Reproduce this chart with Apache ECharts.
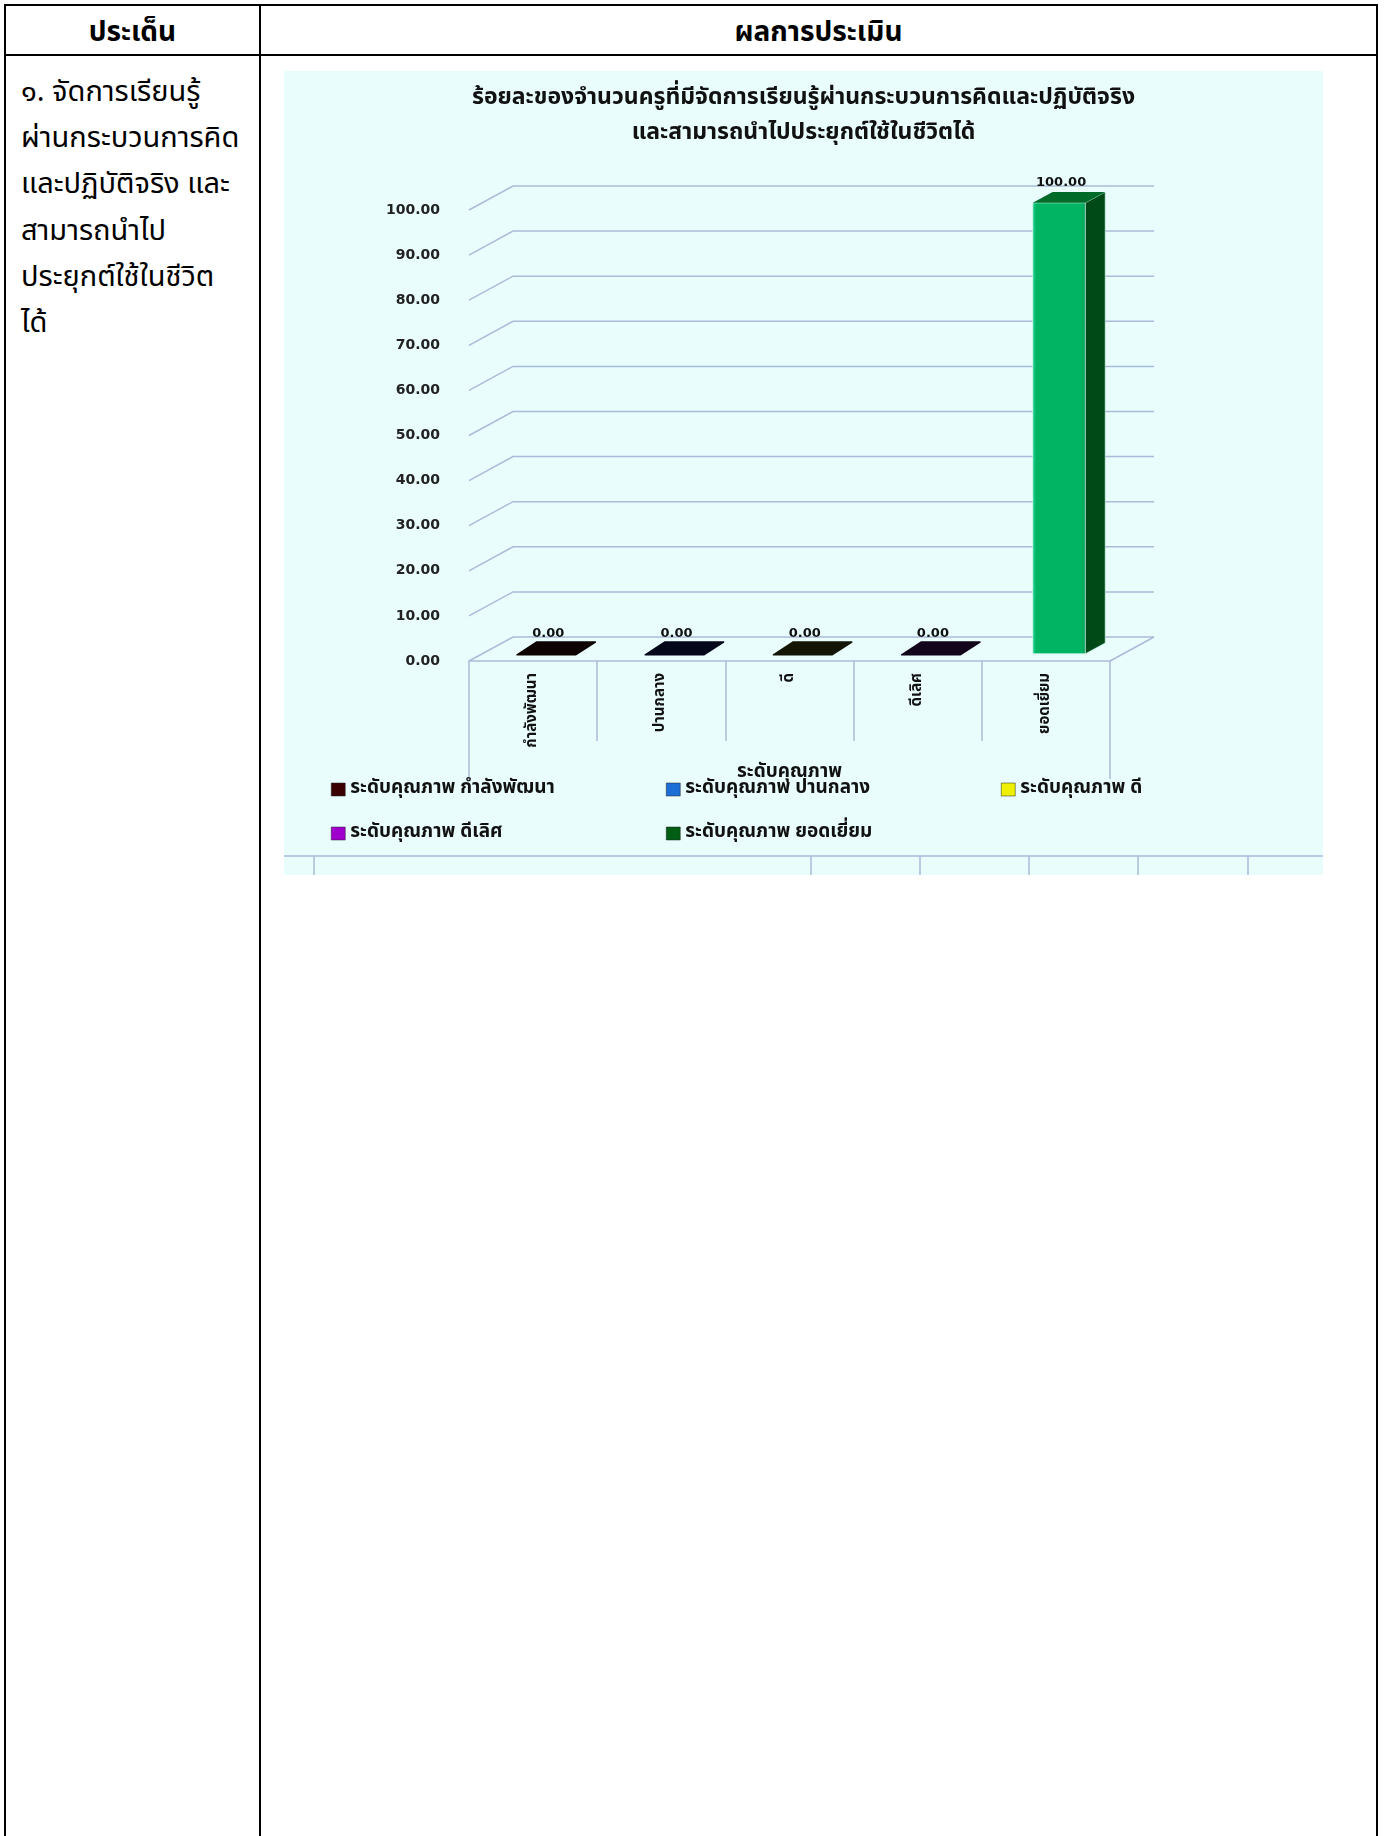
<!DOCTYPE html>
<html><head><meta charset="utf-8">
<script src="https://cdn.jsdelivr.net/npm/echarts@6/dist/echarts.min.js"></script>
<style>
html,body{margin:0;padding:0;background:#fff;}
#page{position:relative;width:1385px;height:1836px;overflow:hidden;background:#fff;font-family:Tahoma,"Noto Sans Thai","Noto Sans","DejaVu Sans",sans-serif;color:#000;}
.ln{position:absolute;background:#000;}
.hd{position:absolute;height:48px;line-height:48px;text-align:center;font-weight:bold;font-size:28px;}
#left{position:absolute;left:21px;top:69px;font-size:29px;line-height:46.2px;white-space:nowrap;}
#chart{position:absolute;left:284px;top:71px;width:1039px;height:804px;}
</style></head><body>
<div id="page">
  <div class="ln" style="left:4px;top:4px;width:1374px;height:2px"></div>
  <div class="ln" style="left:4px;top:54px;width:1374px;height:2px"></div>
  <div class="ln" style="left:4px;top:4px;width:2px;height:1832px"></div>
  <div class="ln" style="left:259px;top:4px;width:2px;height:1832px"></div>
  <div class="ln" style="left:1376px;top:4px;width:2px;height:1832px"></div>
  <div class="hd" style="left:6px;width:253px;top:9px">ประเด็น</div>
  <div class="hd" style="left:261px;width:1115px;top:9px">ผลการประเมิน</div>
  <div id="left">๑. จัดการเรียนรู้<br>ผ่านกระบวนการคิด<br>และปฏิบัติจริง และ<br>สามารถนำไป<br>ประยุกต์ใช้ในชีวิต<br>ได้</div>
  <div id="chart"></div>
</div>
<script>
// ---- data ----
const chartTitle = 'ร้อยละของจำนวนครูที่มีจัดการเรียนรู้ผ่านกระบวนการคิดและปฏิบัติจริง\nและสามารถนำไปประยุกต์ใช้ในชีวิตได้';
const axisName = 'ระดับคุณภาพ';
const categories = ['กำลังพัฒนา', 'ปานกลาง', 'ดี', 'ดีเลิศ', 'ยอดเยี่ยม'];
const seriesNames = ['ระดับคุณภาพ กำลังพัฒนา', 'ระดับคุณภาพ ปานกลาง', 'ระดับคุณภาพ ดี', 'ระดับคุณภาพ ดีเลิศ', 'ระดับคุณภาพ ยอดเยี่ยม'];
const values = [0.00, 0.00, 0.00, 0.00, 100.00];
const yTicks = [0, 10, 20, 30, 40, 50, 60, 70, 80, 90, 100];

// ---- styles ----
const legendColors = ['#3a0000', '#1a6ed6', '#eef000', '#a000cc', '#005e14'];
const frontColors = ['#2a0606', '#0a1030', '#2a2a08', '#24082a', '#00b464'];
const sideColors  = ['#0c0000', '#02040e', '#0c0c02', '#0a020c', '#004a18'];
const topColors   = ['#0d0303', '#04061a', '#151505', '#12041a', '#006a28'];
const GRID = '#a9bcd9';
const DX = 44, DY = -24, F0 = 0.3, F1 = 0.75;
const thaiFont = 'Tahoma, "Noto Sans Thai", "Noto Sans", sans-serif';

const chart = echarts.init(document.getElementById('chart'));

function barRender(params, api) {
  const ci = api.value(0), v = api.value(1);
  const base = api.coord([ci, 0]);
  const top = api.coord([ci, v]);
  const band = api.size([1, 0])[0];
  const w = band * 0.41;
  const x0 = base[0] - w / 2 + DX * F0, x1 = x0 + w;
  const yb = base[1] + DY * F0, yt = top[1] + DY * F0;
  const ddx = DX * (F1 - F0), ddy = DY * (F1 - F0);
  const children = [];
  if (yb - yt > 0.5) {
    children.push({type: 'rect', shape: {x: x0, y: yt, width: w, height: yb - yt},
      style: {fill: new echarts.graphic.LinearGradient(0, 0, 1, 0, [
        {offset: 0, color: '#22d08a'}, {offset: 0.08, color: frontColors[ci]},
        {offset: 0.92, color: frontColors[ci]}, {offset: 1, color: '#009a52'}]),
        stroke: 'rgba(200,250,235,0.8)', lineWidth: 1}});
    children.push({type: 'polygon', shape: {points: [[x1, yb], [x1, yt], [x1 + ddx, yt + ddy], [x1 + ddx, yb + ddy]]},
      style: {fill: sideColors[ci], stroke: 'rgba(200,250,235,0.6)', lineWidth: 1}});
    children.push({type: 'polygon', shape: {points: [[x0, yt], [x1, yt], [x1 + ddx, yt + ddy], [x0 + ddx, yt + ddy]]},
      style: {fill: topColors[ci]}});
  } else {
    children.push({type: 'polygon', shape: {points: [[x0 - 3, yt + 1], [x1 + 3, yt + 1], [x1 + ddx + 3, yt + ddy - 1], [x0 + ddx - 3, yt + ddy - 1]]},
      style: {fill: topColors[ci], stroke: topColors[ci], lineWidth: 1.5, lineJoin: 'round'}});
  }
  children.push({type: 'text', style: {text: v.toFixed(2), x: (x0 + x1) / 2 + 2, y: yt + ddy - 3,
    align: 'center', verticalAlign: 'bottom', fill: '#111', font: 'bold 13px "DejaVu Sans", sans-serif'}});
  return {type: 'group', children: children};
}

function gridRender(params, api) {
  const cs = params.coordSys;
  const y = api.coord([0, api.value(1)])[1];
  const children = [{type: 'polyline',
    shape: {points: [[cs.x, y], [cs.x + DX, y + DY], [cs.x + cs.width + DX, y + DY]]},
    style: {stroke: GRID, lineWidth: 1.5, fill: null}}];
  if (api.value(1) === yTicks[0]) {
    children.push({type: 'line', shape: {x1: cs.x + cs.width, y1: y, x2: cs.x + cs.width + DX, y2: y + DY},
      style: {stroke: GRID, lineWidth: 1.5}});
  }
  return {type: 'group', children: children};
}

const series = [{
  type: 'custom', name: '_grid', silent: true, z: 1,
  renderItem: gridRender, data: yTicks.map(t => [0, t])
}];
seriesNames.forEach((n, i) => {
  series.push({type: 'custom', name: n, z: 5, renderItem: barRender,
    itemStyle: {color: legendColors[i]}, data: [[i, values[i]]]});
});

const legendBase = {
  orient: 'vertical', itemGap: 25, itemWidth: 14, itemHeight: 13, icon: 'rect',
  textStyle: {fontFamily: thaiFont, fontWeight: 'bold', fontSize: 19, color: '#111', lineHeight: 18}
};
function legendItem(i) { return {name: seriesNames[i], itemStyle: {color: legendColors[i], borderColor: '#222', borderWidth: 0.5}}; }

chart.setOption({
  backgroundColor: '#e9fdfd',
  animation: false,
  title: {text: chartTitle, left: 'center', top: 6,
    textStyle: {fontFamily: thaiFont, fontWeight: 'bold', fontSize: 23, lineHeight: 35, color: '#111'}},
  grid: {left: 185, top: 139, width: 641, height: 451},
  legend: [
    Object.assign({left: 42, top: 704, data: [legendItem(0), legendItem(3)]}, legendBase),
    Object.assign({left: 377, top: 704, data: [legendItem(1), legendItem(4)]}, legendBase),
    Object.assign({left: 712, top: 704, data: [legendItem(2)]}, legendBase)
  ],
  xAxis: [{
    type: 'category', data: categories, position: 'bottom',
    axisLine: {show: true, lineStyle: {color: GRID, width: 1.5}},
    axisTick: {show: true, length: 80, interval: 0, lineStyle: {color: GRID, width: 1.5}},
    axisLabel: {rotate: 90, interval: 0, margin: 12, fontFamily: thaiFont, fontWeight: 'bold', fontSize: 15, color: '#111'},
    name: axisName, nameLocation: 'middle', nameGap: 103,
    nameTextStyle: {fontFamily: thaiFont, fontWeight: 'bold', fontSize: 19, color: '#111'},
    splitLine: {show: false}
  }, {
    type: 'value', min: 0, max: 1, interval: 1, position: 'bottom', offset: 0,
    axisLine: {show: false}, axisLabel: {show: false}, splitLine: {show: false},
    axisTick: {show: true, length: 118, lineStyle: {color: GRID, width: 1.5}}
  }],
  yAxis: {
    type: 'value', min: 0, max: 100, interval: 10,
    axisLine: {show: false}, axisTick: {show: false}, splitLine: {show: false},
    axisLabel: {margin: 29, fontFamily: '"DejaVu Sans", sans-serif', fontWeight: 'bold', fontSize: 14, color: '#222',
      formatter: v => v.toFixed(2)}
  },
  graphic: [
    {type: 'line', shape: {x1: 0, y1: 785, x2: 1039, y2: 785}, style: {stroke: GRID, lineWidth: 1.5}},
    {type: 'line', shape: {x1: 30, y1: 785, x2: 30, y2: 804}, style: {stroke: GRID, lineWidth: 1.5}},
    {type: 'line', shape: {x1: 527, y1: 785, x2: 527, y2: 804}, style: {stroke: GRID, lineWidth: 1.5}},
    {type: 'line', shape: {x1: 636, y1: 785, x2: 636, y2: 804}, style: {stroke: GRID, lineWidth: 1.5}},
    {type: 'line', shape: {x1: 745, y1: 785, x2: 745, y2: 804}, style: {stroke: GRID, lineWidth: 1.5}},
    {type: 'line', shape: {x1: 854, y1: 785, x2: 854, y2: 804}, style: {stroke: GRID, lineWidth: 1.5}},
    {type: 'line', shape: {x1: 964, y1: 785, x2: 964, y2: 804}, style: {stroke: GRID, lineWidth: 1.5}}
  ],
  series: series
});
</script>
</body></html>
